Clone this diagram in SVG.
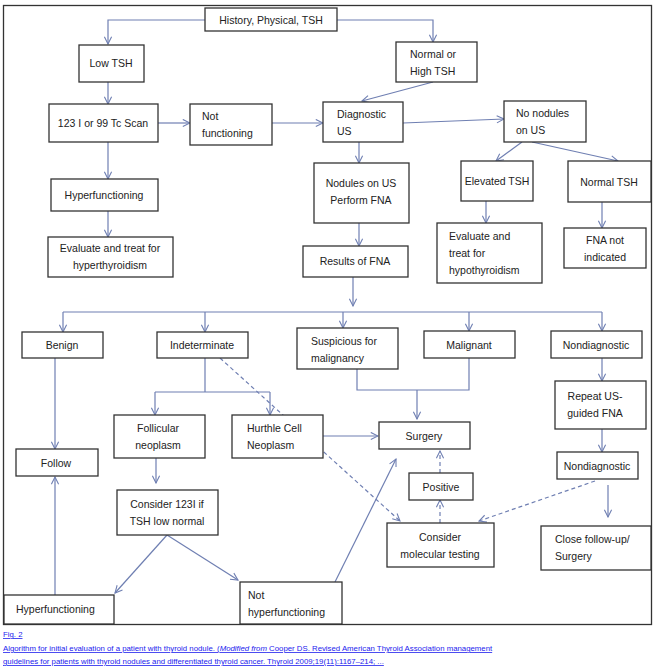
<svg xmlns="http://www.w3.org/2000/svg" width="656" height="667" viewBox="0 0 656 667">
<style>
.b{fill:#fff;stroke:#333;stroke-width:1.3}
.t{font-family:"Liberation Sans",Arial,sans-serif;font-size:10.5px;fill:#222}
.c{text-anchor:middle}
.l{fill:none;stroke:#6f7fb2;stroke-width:1.2}
.d{stroke-dasharray:4,3}
.cap{font-family:"Liberation Sans",Arial,sans-serif;font-size:7.8px;fill:#1a1aee;text-decoration:underline}
</style>
<defs>
<marker id="a" viewBox="0 0 10 10" refX="9" refY="5" markerWidth="9" markerHeight="9" orient="auto" markerUnits="userSpaceOnUse">
<path d="M1,1 L9,5 L1,9" fill="none" stroke="#6f7fb2" stroke-width="1.2"/>
</marker>
</defs>
<rect x="3.5" y="5.5" width="648" height="619" fill="#fff" stroke="#333" stroke-width="1.3"/>
<g id="connectors">
<path class="l" d="M205,20 H108 V44" marker-end="url(#a)"/>
<path class="l" d="M337,20 H433 V42" marker-end="url(#a)"/>
<path class="l" d="M108,82 V104" marker-end="url(#a)"/>
<path class="l" d="M108,142 V179" marker-end="url(#a)"/>
<path class="l" d="M108,211 V237" marker-end="url(#a)"/>
<path class="l" d="M158,123 H190" marker-end="url(#a)"/>
<path class="l" d="M272,123 H323" marker-end="url(#a)"/>
<path class="l" d="M433,82 L362,101" marker-end="url(#a)"/>
<path class="l" d="M403,123 L504,119" marker-end="url(#a)"/>
<path class="l" d="M359,142 V163" marker-end="url(#a)"/>
<path class="l" d="M522,142 L496,161" marker-end="url(#a)"/>
<path class="l" d="M532,142 L618,161" marker-end="url(#a)"/>
<path class="l" d="M486,201 V223" marker-end="url(#a)"/>
<path class="l" d="M602,202 V228" marker-end="url(#a)"/>
<path class="l" d="M359,223 V246" marker-end="url(#a)"/>
<path class="l" d="M353,277 V306" marker-end="url(#a)"/>
<path class="l" d="M63,312 H602"/>
<path class="l" d="M63,312 V332" marker-end="url(#a)"/>
<path class="l" d="M205,312 V332" marker-end="url(#a)"/>
<path class="l" d="M343,312 V328" marker-end="url(#a)"/>
<path class="l" d="M469,312 V331" marker-end="url(#a)"/>
<path class="l" d="M602,312 V331" marker-end="url(#a)"/>
<path class="l" d="M205,358 V392 M155,392 H270"/>
<path class="l" d="M155,392 V415" marker-end="url(#a)"/>
<path class="l" d="M270,392 V415" marker-end="url(#a)"/>
<path class="l d" d="M220,358 L400,521" marker-end="url(#a)"/>
<path class="l" d="M357,369 V390 H469 V358"/>
<path class="l" d="M417,390 V419" marker-end="url(#a)"/>
<path class="l" d="M323,436 H378" marker-end="url(#a)"/>
<path class="l" d="M55,358 V449" marker-end="url(#a)"/>
<path class="l" d="M55,595 V477" marker-end="url(#a)"/>
<path class="l" d="M156,458 V483" marker-end="url(#a)"/>
<path class="l" d="M167,535 L115,593" marker-end="url(#a)"/>
<path class="l" d="M167,535 L238,580" marker-end="url(#a)"/>
<path class="l" d="M335,582 L396,459" marker-end="url(#a)"/>
<path class="l d" d="M440,523 V500" marker-end="url(#a)"/>
<path class="l d" d="M440,473 V451" marker-end="url(#a)"/>
<path class="l d" d="M595,481 L479,521" marker-end="url(#a)"/>
<path class="l" d="M602,358 V381" marker-end="url(#a)"/>
<path class="l" d="M602,429 V452" marker-end="url(#a)"/>
<path class="l" d="M608,485 V517" marker-end="url(#a)"/>
</g>
<g id="history"><rect class="b" x="205" y="8" width="132" height="23"/><text class="t c" x="271" y="24">History, Physical, TSH</text></g>
<g id="lowtsh"><rect class="b" x="79" y="45" width="65" height="37"/><text class="t c" x="111" y="67">Low TSH</text></g>
<g id="scan"><rect class="b" x="49" y="104" width="109" height="38"/><text class="t c" x="103" y="127">123 I or 99 Tc Scan</text></g>
<g id="notfunc"><rect class="b" x="190" y="104" width="82" height="41"/><text class="t" x="202" y="120">Not</text><text class="t" x="202" y="137">functioning</text></g>
<g id="hyperfunc1"><rect class="b" x="51" y="179" width="107" height="32"/><text class="t c" x="104" y="199">Hyperfunctioning</text></g>
<g id="evalhyper"><rect class="b" x="48" y="237" width="125" height="40"/><text class="t c" x="110" y="252">Evaluate and treat for</text><text class="t c" x="110" y="269">hyperthyroidism</text></g>
<g id="normalhigh"><rect class="b" x="396" y="42" width="81" height="40"/><text class="t" x="410" y="58">Normal or</text><text class="t" x="410" y="75">High TSH</text></g>
<g id="diagus"><rect class="b" x="323" y="102" width="80" height="40"/><text class="t" x="337" y="118">Diagnostic</text><text class="t" x="337" y="135">US</text></g>
<g id="nonodules"><rect class="b" x="504" y="101" width="82" height="41"/><text class="t" x="516" y="117">No nodules</text><text class="t" x="516" y="134">on US</text></g>
<g id="nodules"><rect class="b" x="314" y="163" width="95" height="60"/><text class="t c" x="361" y="187">Nodules on US</text><text class="t c" x="361" y="204">Perform FNA</text></g>
<g id="results"><rect class="b" x="303" y="246" width="105" height="31"/><text class="t c" x="355" y="265">Results of FNA</text></g>
<g id="elevated"><rect class="b" x="461" y="161" width="72" height="40"/><text class="t c" x="497" y="185">Elevated TSH</text></g>
<g id="normaltsh"><rect class="b" x="568" y="161" width="83" height="41"/><text class="t c" x="609" y="186">Normal TSH</text></g>
<g id="evalhypo"><rect class="b" x="437" y="223" width="105" height="60"/><text class="t" x="449" y="240">Evaluate and</text><text class="t" x="449" y="257">treat for</text><text class="t" x="449" y="274">hypothyroidism</text></g>
<g id="fnanot"><rect class="b" x="564" y="228" width="82" height="40"/><text class="t c" x="605" y="244">FNA not</text><text class="t c" x="605" y="261">indicated</text></g>
<g id="benign"><rect class="b" x="22" y="332" width="81" height="26"/><text class="t c" x="62" y="349">Benign</text></g>
<g id="indeterminate"><rect class="b" x="157" y="332" width="91" height="26"/><text class="t c" x="202" y="349">Indeterminate</text></g>
<g id="suspicious"><rect class="b" x="297" y="328" width="101" height="41"/><text class="t" x="311" y="345">Suspicious for</text><text class="t" x="311" y="362">malignancy</text></g>
<g id="malignant"><rect class="b" x="424" y="331" width="91" height="27"/><text class="t c" x="469" y="349">Malignant</text></g>
<g id="nondiag1"><rect class="b" x="551" y="331" width="91" height="27"/><text class="t c" x="596" y="349">Nondiagnostic</text></g>
<g id="follicular"><rect class="b" x="114" y="415" width="91" height="43"/><text class="t c" x="158" y="432">Follicular</text><text class="t c" x="158" y="449">neoplasm</text></g>
<g id="hurthle"><rect class="b" x="232" y="415" width="91" height="43"/><text class="t" x="247" y="432">Hurthle Cell</text><text class="t" x="247" y="449">Neoplasm</text></g>
<g id="surgery"><rect class="b" x="379" y="422" width="91" height="27"/><text class="t c" x="424" y="440">Surgery</text></g>
<g id="repeat"><rect class="b" x="555" y="381" width="91" height="48"/><text class="t c" x="595" y="400">Repeat US-</text><text class="t c" x="595" y="417">guided FNA</text></g>
<g id="nondiag2"><rect class="b" x="557" y="452" width="81" height="27"/><text class="t c" x="597" y="470">Nondiagnostic</text></g>
<g id="follow"><rect class="b" x="16" y="449" width="82" height="27"/><text class="t c" x="56" y="467">Follow</text></g>
<g id="consider123"><rect class="b" x="117" y="490" width="101" height="45"/><text class="t c" x="167" y="508">Consider 123I if</text><text class="t c" x="167" y="525">TSH low normal</text></g>
<g id="positive"><rect class="b" x="409" y="473" width="64" height="27"/><text class="t c" x="441" y="491">Positive</text></g>
<g id="molecular"><rect class="b" x="387" y="523" width="107" height="44"/><text class="t c" x="440" y="541">Consider</text><text class="t c" x="440" y="558">molecular testing</text></g>
<g id="closefollow"><rect class="b" x="541" y="526" width="110" height="44"/><text class="t" x="555" y="543">Close follow-up/</text><text class="t" x="555" y="560">Surgery</text></g>
<g id="hyperfunc2"><rect class="b" x="4" y="595" width="110" height="29"/><text class="t" x="16" y="613">Hyperfunctioning</text></g>
<g id="nothyper"><rect class="b" x="240" y="582" width="102" height="42"/><text class="t" x="248" y="599">Not</text><text class="t" x="248" y="616">hyperfunctioning</text></g>
<g id="caption">
<text class="cap" x="3" y="637" font-size="8.5">Fig. 2</text>
<text class="cap" x="3" y="651">Algorithm for initial evaluation of a patient with thyroid nodule. (<tspan font-style="italic">Modified from</tspan> Cooper DS. Revised American Thyroid Association management</text>
<text class="cap" x="3" y="664">guidelines for patients with thyroid nodules and differentiated thyroid cancer. Thyroid 2009;19(11):1167–214; ...</text>
</g>
</svg>
